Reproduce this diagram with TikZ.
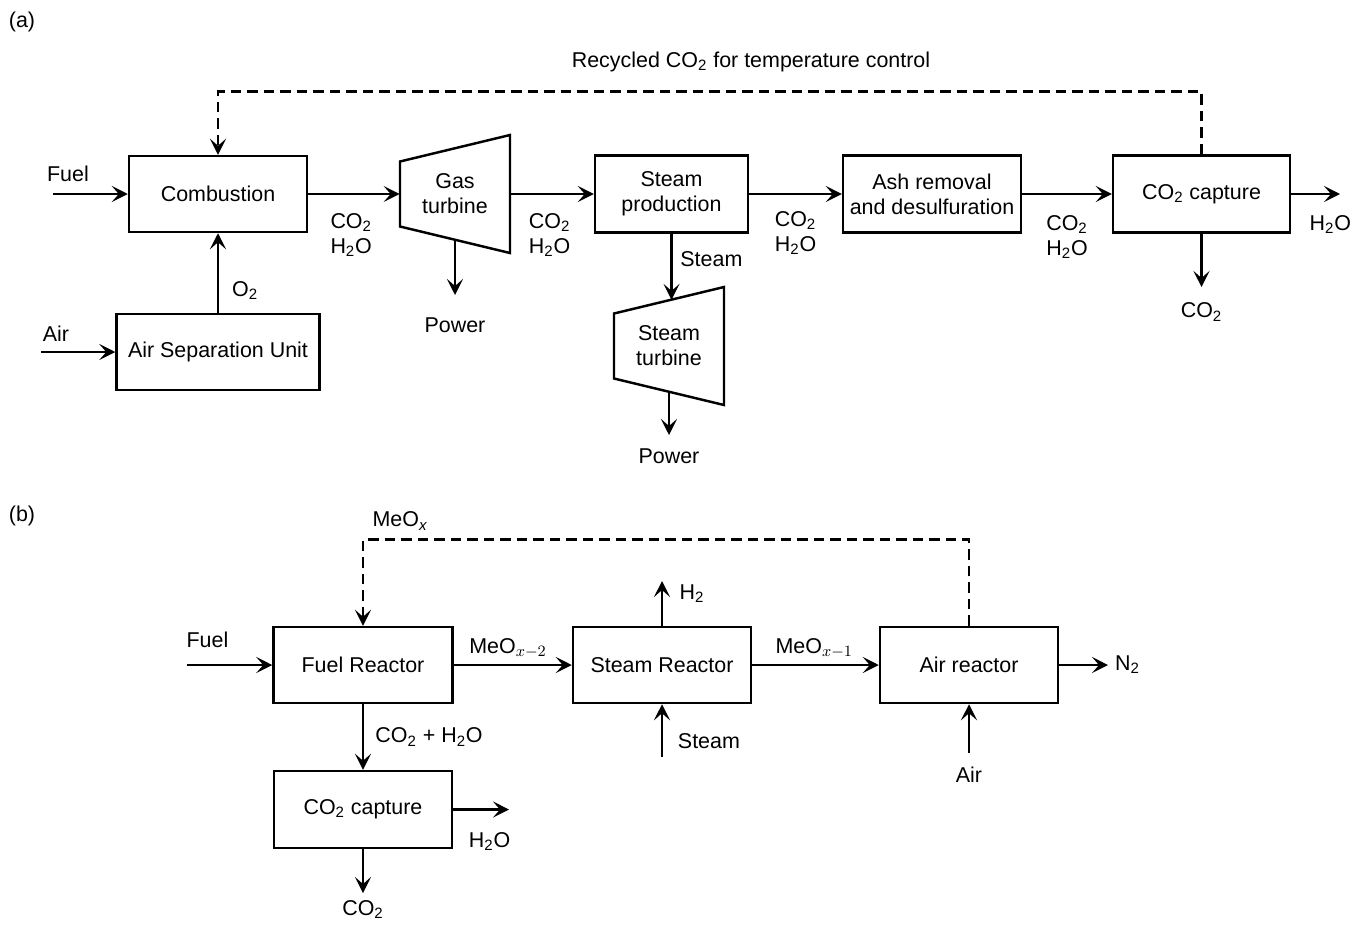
\documentclass[tikz,border=0pt]{standalone}
\usepackage{fontspec}
\setmainfont{Liberation Sans}
\usetikzlibrary{arrows.meta,calc,positioning}

\begin{document}
\begin{tikzpicture}[
    font=\fontsize{12.2}{14.2}\selectfont,
    block/.style={draw, line width=1.4pt, align=center, minimum height=1.52cm, inner sep=2pt},
    turbine/.style={align=center, minimum width=2.2cm, minimum height=1.83cm, inner sep=0pt},
    flow/.style={line width=1.5pt, -{Stealth[length=3.2mm,width=3.2mm,inset=1.4mm]}},
    recycle/.style={flow, dash pattern=on 2.1mm off 1.2mm}
]
    \useasboundingbox (0,0) rectangle (27.08,-18.52);

    % (a) oxy-fuel combustion
    \node at (0.44,-0.44) (tagA) {(a)};
    \node[block, minimum width=3.56cm] at (4.36,-3.88) (comb) {Combustion};
    \node[block, minimum width=4.06cm] at (4.36,-7.04) (asu) {Air Separation Unit};
    \node[turbine] at (9.10,-3.88) (gt) {Gas\\turbine};
    \node[block, minimum width=3.06cm, minimum height=1.54cm] at (13.43,-3.88) (sp) {Steam\\production};
    \node[turbine] at (13.38,-6.92) (st) {Steam\\turbine};
    \node[block, minimum width=3.56cm, minimum height=1.54cm] at (18.64,-3.88) (ash) {Ash removal\\and desulfuration};
    \node[block, minimum width=3.54cm, minimum height=1.54cm] at (24.03,-3.88) (cap) {CO\textsubscript{2} capture};
    \node at (15.02,-1.24) (reclbl) {Recycled CO\textsubscript{2} for temperature control};

    \coordinate (fuelA) at (1.06,-3.88);
    \coordinate (airA) at (0.82,-7.04);
    \coordinate (pwA) at (9.10,-5.90);
    \coordinate (pwB) at (13.38,-8.70);
    \coordinate (h2oA) at (26.80,-3.88);
    \coordinate (co2A) at (24.03,-5.74);

    \foreach \t in {gt,st}
        \draw[line width=1.4pt] ($(\t)+(-1.1,0.65)$) -- ($(\t)+(1.1,1.18)$)
            -- ($(\t)+(1.1,-1.18)$) -- ($(\t)+(-1.1,-0.65)$) -- cycle;

    \path[flow]
    (fuelA) edge node[above=3pt, pos=0.2] {Fuel} (comb.west)
    (airA) edge node[above=2pt, pos=0.2] {Air} (asu.west)
    (asu.north) edge node[right=4pt, pos=0.28] {O\textsubscript{2}} (comb.south)
    (comb.east) edge node[below=7pt, align=left, pos=0.47] {CO\textsubscript{2}\\H\textsubscript{2}O} (gt.west)
    (gt.south) edge node[below=9pt, at end] {Power} (pwA)
    (gt.east) edge node[below=7pt, align=left, pos=0.47] {CO\textsubscript{2}\\H\textsubscript{2}O} (sp.west)
    (sp.south) edge node[right=1pt, pos=0.38] {Steam} (sp.south |- st.north)
    (st.south) edge node[below=4pt, at end] {Power} (pwB)
    (sp.east) edge node[below=6pt, align=left] {CO\textsubscript{2}\\H\textsubscript{2}O} (ash.west)
    (ash.east) edge node[below=8pt, align=left] {CO\textsubscript{2}\\H\textsubscript{2}O} (cap.west)
    (cap.east) edge node[below=8pt, pos=0.8] {H\textsubscript{2}O} (h2oA)
    (cap.south) edge node[below=5pt, at end] {CO\textsubscript{2}} (co2A)
    ;
    \draw[recycle] (cap.north) |- ($(comb.north)+(0,1.26)$) -- (comb.north);

    % (b) chemical looping
    \node at (0.44,-10.32) (tagB) {(b)};
    \node[block, minimum width=3.58cm] at (7.26,-13.30) (fr) {Fuel Reactor};
    \node[block, minimum width=3.56cm] at (13.24,-13.30) (sr) {Steam Reactor};
    \node[block, minimum width=3.56cm] at (19.38,-13.30) (ar) {Air reactor};
    \node[block, minimum width=3.56cm, minimum height=1.54cm] at (7.26,-16.19) (cc) {CO\textsubscript{2} capture};
    \node at (8.00,-10.42) (meolbl) {MeO$_{\mathit{x}}$};

    \coordinate (fuelB) at (3.74,-13.30);
    \coordinate (h2B) at (13.24,-11.62);
    \coordinate (steamB) at (13.24,-15.14);
    \coordinate (n2B) at (22.16,-13.30);
    \coordinate (airB) at (19.38,-15.06);
    \coordinate (h2oB) at (10.18,-16.19);
    \coordinate (co2B) at (7.26,-17.86);

    \path[flow]
    (fuelB) edge node[above=6pt, pos=0.24] {Fuel} (fr.west)
    (fr.east) edge node[above, pos=0.46] {MeO$_{x-2}$} (sr.west)
    (sr.east) edge node[above, pos=0.49] {MeO$_{x-1}$} (ar.west)
    (ar.east) edge node[right, at end] {N\textsubscript{2}} (n2B)
    (sr.north) edge node[right=6pt, pos=0.72] {H\textsubscript{2}} (h2B)
    (steamB) edge node[right=5pt, pos=0.3] {Steam} (sr.south)
    (airB) edge node[below=4pt, at start] {Air} (ar.south)
    (fr.south) edge node[right=3pt, pos=0.5] {CO\textsubscript{2} + H\textsubscript{2}O} (cc.north)
    (cc.east) edge node[below=9pt, pos=0.65] {H\textsubscript{2}O} (h2oB)
    (cc.south) edge node[below=0pt, at end] {CO\textsubscript{2}} (co2B)
    ;
    \draw[recycle] (ar.north) |- ($(fr.north)+(0,1.72)$) -- (fr.north);
\end{tikzpicture}
\end{document}
